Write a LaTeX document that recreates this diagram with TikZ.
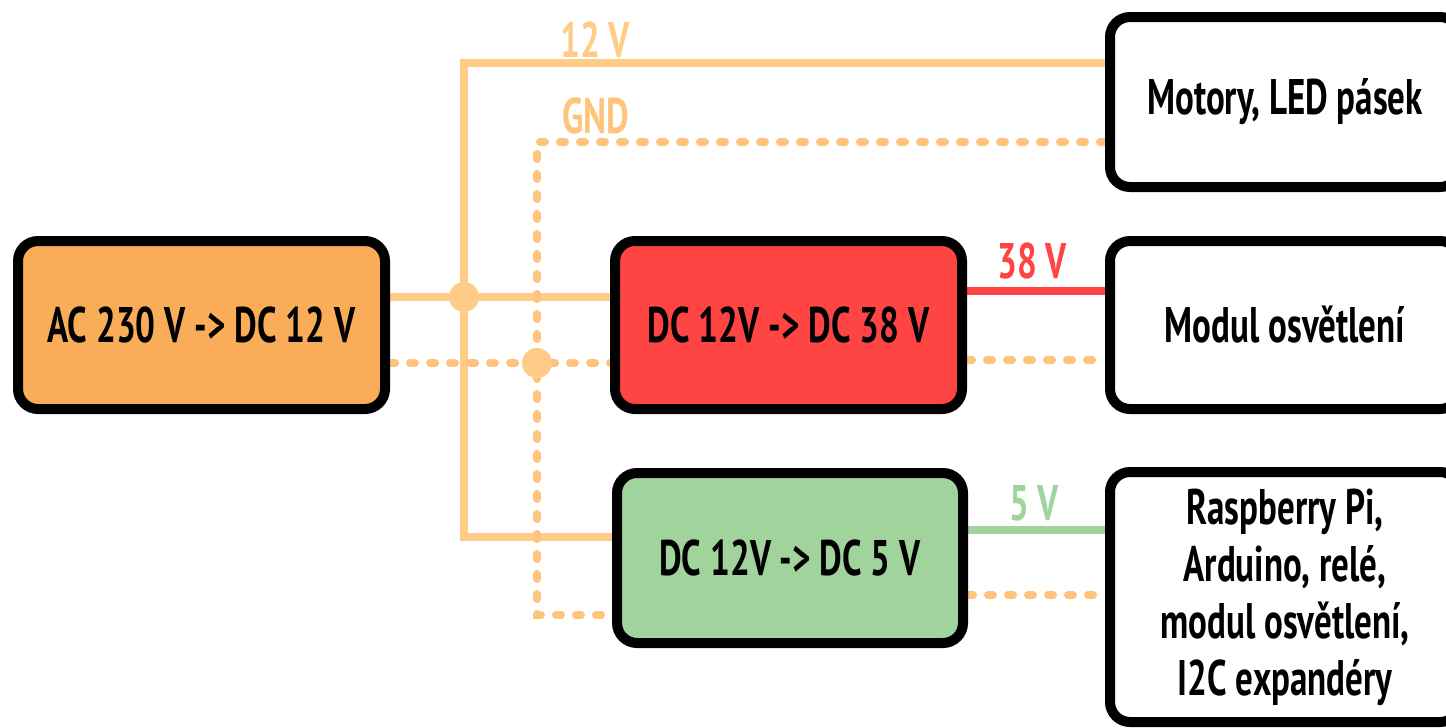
\documentclass[tikz,border=0pt]{standalone}
\usepackage{fontspec}
\usetikzlibrary{backgrounds}
\setmainfont{PT Sans}[FakeStretch=0.7]
\definecolor{acfill}{HTML}{F9AD59}
\definecolor{redfill}{HTML}{FF4444}
\definecolor{greenfill}{HTML}{A1D39C}
\definecolor{wire}{HTML}{FFCC88}
\definecolor{gndwire}{HTML}{FFC47C}
\begin{document}
\begin{tikzpicture}[x=1pt,y=-1pt,
  box/.style={draw=black,line width=10pt,rounded corners=20pt,inner sep=0pt,
    font=\fontsize{50}{57}\selectfont\bfseries,align=center},
  wire12/.style={draw=wire,line width=8pt},
  gnd/.style={draw=gndwire,line width=8pt,line cap=round,dash pattern=on 5pt off 15pt},
  lbl/.style={font=\fontsize{50}{57}\selectfont\bfseries,anchor=base,inner sep=0pt},
  jdot/.style={fill=wire,circle,minimum size=30pt,inner sep=0pt}]
\useasboundingbox (0,0) rectangle (1446,728);
\clip (0,0) rectangle (1446,728);
% junction and corner points
\coordinate (j12) at (464,297);
\coordinate (jg) at (537,363);
\coordinate (t12) at (464,63);
\coordinate (b12) at (464,537);
\coordinate (tg) at (537,142);
\coordinate (bg) at (537,615);
% boxes
\node[box,fill=acfill,minimum width=367pt,minimum height=168pt] (acbox) at (201.5,325) {AC 230 V -> DC 12 V};
\node[box,fill=redfill,minimum width=347pt,minimum height=168pt] (red) at (788.5,325) {DC 12V -> DC 38 V};
\node[box,fill=greenfill,minimum width=346pt,minimum height=170pt] (green) at (790,558) {DC 12V -> DC 5 V};
\node[box,fill=white,minimum width=350pt,minimum height=170pt] (mot) at (1285,102) {Motory, LED pásek};
\node[box,fill=white,minimum width=350pt,minimum height=168pt] (mod) at (1285,325) {Modul osvětlení};
\node[box,fill=white,minimum width=350pt,minimum height=250pt] (ras) at (1285,597) {Raspberry Pi,\\Arduino, relé,\\modul osvětlení,\\I2C expandéry};
% labels
\node[lbl,text=wire] (l12) at (595,57) {12 V};
\node[lbl,text=gndwire] (lg) at (596,133) {GND};
\node[lbl,text=redfill] (l38) at (1032,278) {38 V};
\node[lbl,text=greenfill] (l5) at (1034,520) {5 V};
% wires behind boxes
\begin{scope}[on background layer]
\fill[white] (0,0) rectangle (1446,728);
% 12 V network
\draw[wire12] (acbox.east |- j12) -- (red.west |- j12);
\draw[wire12] (mot.west |- t12) -- (t12) -- (b12) -- (green.west |- b12);
% GND network
\draw[gnd] (acbox.east |- jg) -- (red.west |- jg);
\draw[gnd] (mot.west |- tg) -- (tg) -- (bg) -- (green.west |- bg);
\draw[gnd] (red.east |- 0,360) -- (mod.west |- 0,360);
\draw[gnd] (green.east |- 0,595) -- (ras.west |- 0,595);
% output lines
\draw[draw=redfill,line width=8pt] (red.east |- 0,291) -- (mod.west |- 0,291);
\draw[draw=greenfill,line width=8pt] (green.east |- 0,530) -- (ras.west |- 0,530);
\node[jdot] (d12) at (j12) {};
\node[jdot] (dg) at (jg) {};
\end{scope}
\end{tikzpicture}
\end{document}
